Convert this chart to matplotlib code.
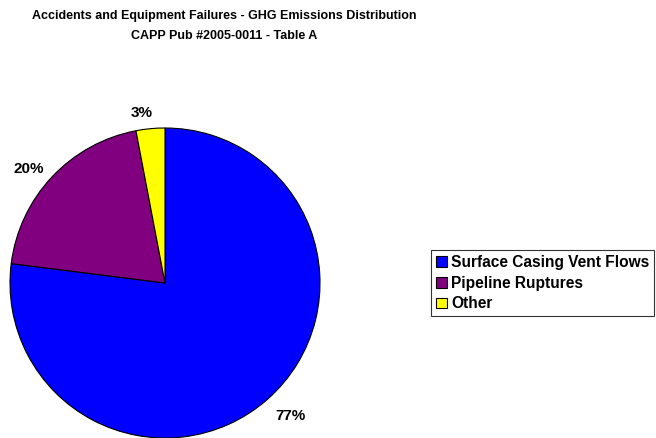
import matplotlib
matplotlib.use("Agg")
import matplotlib.pyplot as plt
import numpy as np

# ---------------- DATA ----------------
categories = ["Surface Casing Vent Flows", "Pipeline Ruptures", "Other"]
shares = [77, 20, 3]
colors = ["#0000FF", "#800080", "#FFFF00"]

title_lines = ["Accidents and Equipment Failures - GHG Emissions Distribution",
               "CAPP Pub #2005-0011 - Table A"]

plt.rcParams["font.family"] = ["Liberation Sans", "DejaVu Sans"]
plt.rcParams["font.weight"] = "bold"

W, H = 656, 438
fig = plt.figure(figsize=(W / 100, H / 100), dpi=100)

# pie axes: centre (165, 283) px, radius 155 px
cx, cy, r = 165, 283, 155
ax = fig.add_axes([(cx - r) / W, (H - cy - r) / H, 2 * r / W, 2 * r / H])
wedges, _ = ax.pie(shares, colors=colors, startangle=90, counterclock=False,
                   wedgeprops=dict(edgecolor="black", linewidth=0.8))
ax.set_xlim(-1, 1)
ax.set_ylim(-1, 1)
ax.set_aspect("equal")
for w in wedges:
    w.set_clip_on(False)

# percentage labels outside the wedges
label_dist = [1.18, 1.15, 1.11]
label_shift = [1.8, 3.3, 2.3]
for w, s, d, sh in zip(wedges, shares, label_dist, label_shift):
    ang = np.deg2rad((w.theta1 + w.theta2) / 2 + sh)
    ax.text(d * np.cos(ang), d * np.sin(ang), f"{s}%", ha="center", va="center",
            fontsize=11, fontweight="bold", clip_on=False)

fig.text(224 / W, 1 - 16 / H, title_lines[0], ha="center", va="center",
         fontsize=9, fontweight="bold")
fig.text(224 / W, 1 - 36 / H, title_lines[1], ha="center", va="center",
         fontsize=9, fontweight="bold")

leg = fig.legend(wedges, categories, loc="upper left",
                 bbox_to_anchor=(431 / W, 1 - 250 / H), frameon=True,
                 fancybox=False, edgecolor="black", fontsize=11.2,
                 handlelength=0.7, handleheight=0.7, handletextpad=0.3,
                 labelspacing=0.38, borderpad=0.3, borderaxespad=0)
leg.get_frame().set_linewidth(0.8)

fig.savefig("out.png", dpi=100)
